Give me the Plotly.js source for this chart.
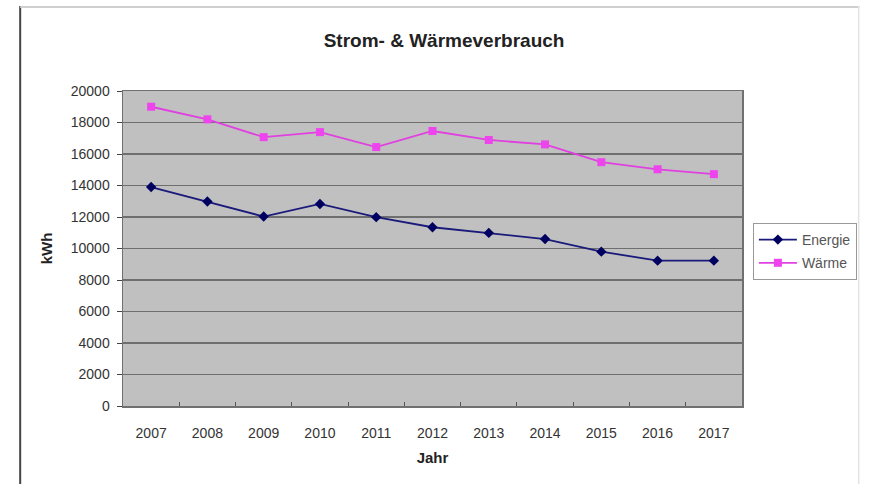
<!DOCTYPE html>
<html>
<head>
<meta charset="utf-8">
<script src="https://cdn.plot.ly/plotly-3.0.1.min.js"></script>
<style>html,body{margin:0;padding:0;background:#fff;}#chart{width:869px;height:484px;}</style>
</head>
<body>
<div id="chart"></div>
<script>
const years = ['2007','2008','2009','2010','2011','2012','2013','2014','2015','2016','2017'];
const energie = [13900, 12980, 12030, 12830, 11990, 11350, 10990, 10600, 9800, 9230, 9230];
const waerme = [19000, 18200, 17070, 17390, 16440, 17460, 16890, 16610, 15480, 15030, 14720];

const fontFam = '"Liberation Sans", Arial, sans-serif';
const textCol = '#2a2a2a';

const traces = [
  {x: years, y: energie, name: 'Energie', type: 'scatter', mode: 'lines+markers',
   line: {color: '#1a1a7a', width: 1.8}, marker: {symbol: 'diamond', size: 8, color: '#000060'},
   legendgroup: 'a'},
  {x: years, y: waerme, name: 'Wärme', type: 'scatter', mode: 'lines+markers',
   line: {color: '#e040e0', width: 1.8}, marker: {symbol: 'square', size: 8, color: '#ee44ee'},
   legendgroup: 'b'}
];

const layout = {
  width: 869, height: 484,
  margin: {l: 123, r: 120, t: 91, b: 78},
  paper_bgcolor: '#ffffff',
  plot_bgcolor: '#c0c0c0',
  font: {family: fontFam, size: 14, color: textCol},
  title: {text: '<b>Strom- &amp; Wärmeverbrauch</b>', font: {size: 19, family: fontFam, color: '#222'},
          x: 0.511, xref: 'container', xanchor: 'center', y: 0.917, yref: 'container', yanchor: 'middle'},
  xaxis: {
    type: 'category', range: [-0.5, 10.5],
    title: {text: '<b>Jahr</b>', font: {size: 15, family: fontFam, color: '#222'}, standoff: 12},
    showgrid: false, showline: true, linecolor: '#707070', linewidth: 1.5, mirror: true,
    ticks: 'inside', tickson: 'boundaries', ticklen: 4, tickcolor: '#555',
    ticklabelstandoff: 14, tickfont: {size: 14, color: '#333'}, zeroline: false
  },
  yaxis: {
    range: [0, 20000], dtick: 2000, tick0: 0, tickformat: 'd',
    title: {text: '<b>kWh</b>', font: {size: 15, family: fontFam, color: '#222'}, standoff: 14},
    showgrid: true, gridcolor: '#6e6e6e', gridwidth: 1.5,
    showline: true, linecolor: '#707070', linewidth: 1.5, mirror: true,
    ticks: 'outside', ticklen: 5, tickcolor: '#444', ticklabelstandoff: 4,
    tickfont: {size: 14, color: '#333'}, zeroline: false
  },
  legend: {x: 1.0176, xanchor: 'left', y: 0.581, yanchor: 'top',
           bordercolor: '#999', borderwidth: 1, bgcolor: '#ffffff',
           font: {size: 14, color: '#555'}, itemwidth: 38,
           traceorder: 'grouped', tracegroupgap: 2},
  shapes: [
    {type: 'line', xref: 'paper', yref: 'paper', x0: -0.1661, x1: -0.1661, y0: 1.27, y1: -0.3, line: {color: '#444', width: 2}},
    {type: 'line', xref: 'paper', yref: 'paper', x0: -0.1661, x1: 1.19, y0: 1.267, y1: 1.267, line: {color: '#cfcfcf', width: 2}},
    {type: 'line', xref: 'paper', yref: 'paper', x0: 1.1885, x1: 1.1885, y0: 1.27, y1: -0.3, line: {color: '#e4e4e4', width: 1.5}}
  ],
  showlegend: true
};

Plotly.newPlot('chart', traces, layout, {displayModeBar: false, staticPlot: true});
</script>
</body>
</html>
